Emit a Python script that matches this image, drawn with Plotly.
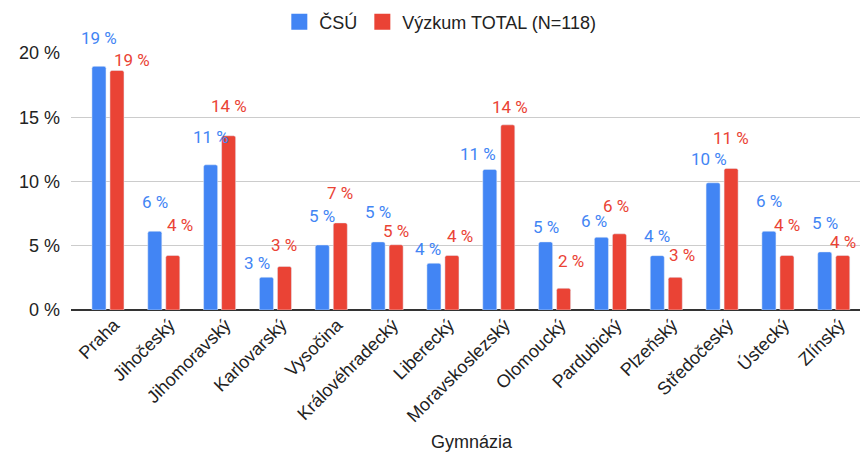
import plotly.graph_objects as go

categories = ["Praha", "Jihočeský", "Jihomoravský", "Karlovarský", "Vysočina",
              "Královéhradecký", "Liberecký", "Moravskoslezský", "Olomoucký",
              "Pardubický", "Plzeňský", "Středočeský", "Ústecký", "Zlínský"]
csu = [18.96, 6.13, 11.3, 2.55, 5.06, 5.3, 3.64, 10.94, 5.3, 5.66, 4.23, 9.9, 6.13, 4.52]
vyzkum = [18.64, 4.24, 13.56, 3.39, 6.78, 5.08, 4.24, 14.41, 1.69, 5.93, 2.54, 11.02, 4.24, 4.24]
series_names = ["ČSÚ", "Výzkum TOTAL (N=118)"]
y_ticks = [0, 5, 10, 15, 20]
x_title = "Gymnázia"

# label placement (pixel offsets from bar top/centre), styling only
blue_dx = [0, 0, 0, -9, 0, 0, -6, -12, 0, -7, 0, -4, 0, 0]
blue_dy = [28, 29, 28, 14, 29, 30, 14, 15, 15, 16, 20, 24, 30, 29]
red_dx = [15, 7, 0, 0, 0, 0, 8, 2, 7, -3, 7, 0, 0, 0]
red_dy = [10, 31, 30, 21, 30, 14, 20, 18, 27, 28, 22, 30, 31, 14]

BLUE = "#4285F4"
RED = "#EA4335"
TXT = "#222222"
idx = list(range(len(categories)))

fig = go.Figure()
fig.add_trace(go.Bar(x=idx, y=csu, name=series_names[0], marker_color=BLUE, showlegend=False))
fig.add_trace(go.Bar(x=idx, y=vyzkum, name=series_names[1], marker_color=RED, showlegend=False))
# legend entries with larger square swatches
for nm, col in zip(series_names, [BLUE, RED]):
    fig.add_trace(go.Scatter(x=[None], y=[None], mode="markers", name=nm,
                             marker=dict(symbol="square", size=16, color=col)))

ann = []
for i in idx:
    ann.append(dict(x=i, y=csu[i], xref="x", yref="y", text=f"{round(csu[i])} %",
                    showarrow=False, xshift=-9 + blue_dx[i], yshift=blue_dy[i],
                    font=dict(family="Roboto", size=17, color=BLUE)))
    ann.append(dict(x=i, y=vyzkum[i], xref="x", yref="y", text=f"{round(vyzkum[i])} %",
                    showarrow=False, xshift=9 + red_dx[i], yshift=red_dy[i],
                    font=dict(family="Roboto", size=17, color=RED)))
ann.append(dict(x=0.508, y=-0.514, xref="paper", yref="paper", text=x_title,
                showarrow=False, yanchor="middle", xanchor="center",
                font=dict(size=18, color=TXT)))

fig.update_layout(
    width=860, height=454,
    margin=dict(l=71, r=0, t=53, b=144, autoexpand=False),
    plot_bgcolor="white", paper_bgcolor="white",
    barmode="group", bargap=0.355, bargroupgap=0.22, barcornerradius=2,
    font=dict(family="Liberation Sans, Arial", size=18, color=TXT),
    legend=dict(orientation="h", x=0.512, xref="container", xanchor="center",
                y=1 - 22 / 454, yref="container", yanchor="middle",
                font=dict(size=18, color=TXT), traceorder="normal"),
    annotations=ann,
    xaxis=dict(tickmode="array", tickvals=idx, ticktext=categories, tickangle=-45,
               range=[-0.662, 13.47], showgrid=False, ticks="", automargin=False,
               ticklabelshift=6, tickfont=dict(size=18, color=TXT)),
    yaxis=dict(range=[0, 20], tickvals=y_ticks,
               ticktext=[f"{v} %" for v in y_ticks],
               gridcolor="#cccccc", gridwidth=1, zeroline=True, zerolinecolor="#333333",
               zerolinewidth=2, ticks="", ticklabelstandoff=10, automargin=False,
               tickfont=dict(size=18, color=TXT)),
)
fig.write_html("out.html", config={"displayModeBar": False},
               post_script="document.body.style.margin='0';document.body.style.overflow='hidden';")
